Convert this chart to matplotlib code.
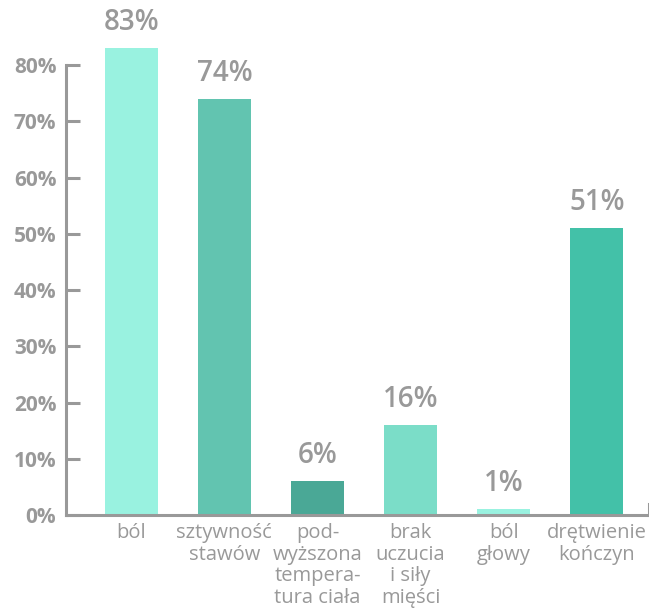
import numpy as np
import matplotlib.pyplot as plt

categories = ["ból", "sztywność\nstawów", "pod-\nwyższona\ntempera-\ntura ciała",
              "brak\nuczucia\ni siły\nmięści", "ból\ngłowy", "drętwienie\nkończyn"]
values = [83, 74, 6, 16, 1, 51]
bar_colors = ["#99f2e0", "#62c4b0", "#4aa896", "#7bddc8", "#99f2e0", "#43c1a8"]
yticks = [0, 10, 20, 30, 40, 50, 60, 70, 80]

GRAY = "#999999"
plt.rcParams['font.family'] = ['Open Sans', 'DejaVu Sans']

fig = plt.figure(figsize=(6.49, 6.14), dpi=100)
ax = fig.add_axes([66 / 649, 99 / 614, 583 / 649, 515 / 614])

x = np.arange(len(categories))
ax.bar(x, values, width=0.57, color=bar_colors, clip_on=False)
for xi, v in zip(x, values):
    ax.text(xi, v + 2.0, f"{v}%", ha='center', va='bottom', fontsize=20,
            fontweight='semibold', color=GRAY)

ax.set_xlim(-0.70, 5.56)
ax.set_ylim(0, 91.6)
ax.set_yticks(yticks)
ax.set_yticklabels([f"{t}%" for t in yticks], fontsize=15, fontweight='bold', color=GRAY)
ax.set_xticks(x)
ax.set_xticklabels(categories, fontsize=14.5, color=GRAY, linespacing=1.1)
ax.tick_params(axis='y', direction='in', length=10, width=2.2, color=GRAY, pad=7)
ax.tick_params(axis='x', length=0, pad=6)

for s in ['left', 'bottom', 'right']:
    ax.spines[s].set_color(GRAY)
    ax.spines[s].set_linewidth(2.2)
ax.spines['top'].set_visible(False)
ax.spines['left'].set_bounds(0, 80)
ax.spines['right'].set_bounds(0, 2)

fig.savefig("out.png", dpi=100)
